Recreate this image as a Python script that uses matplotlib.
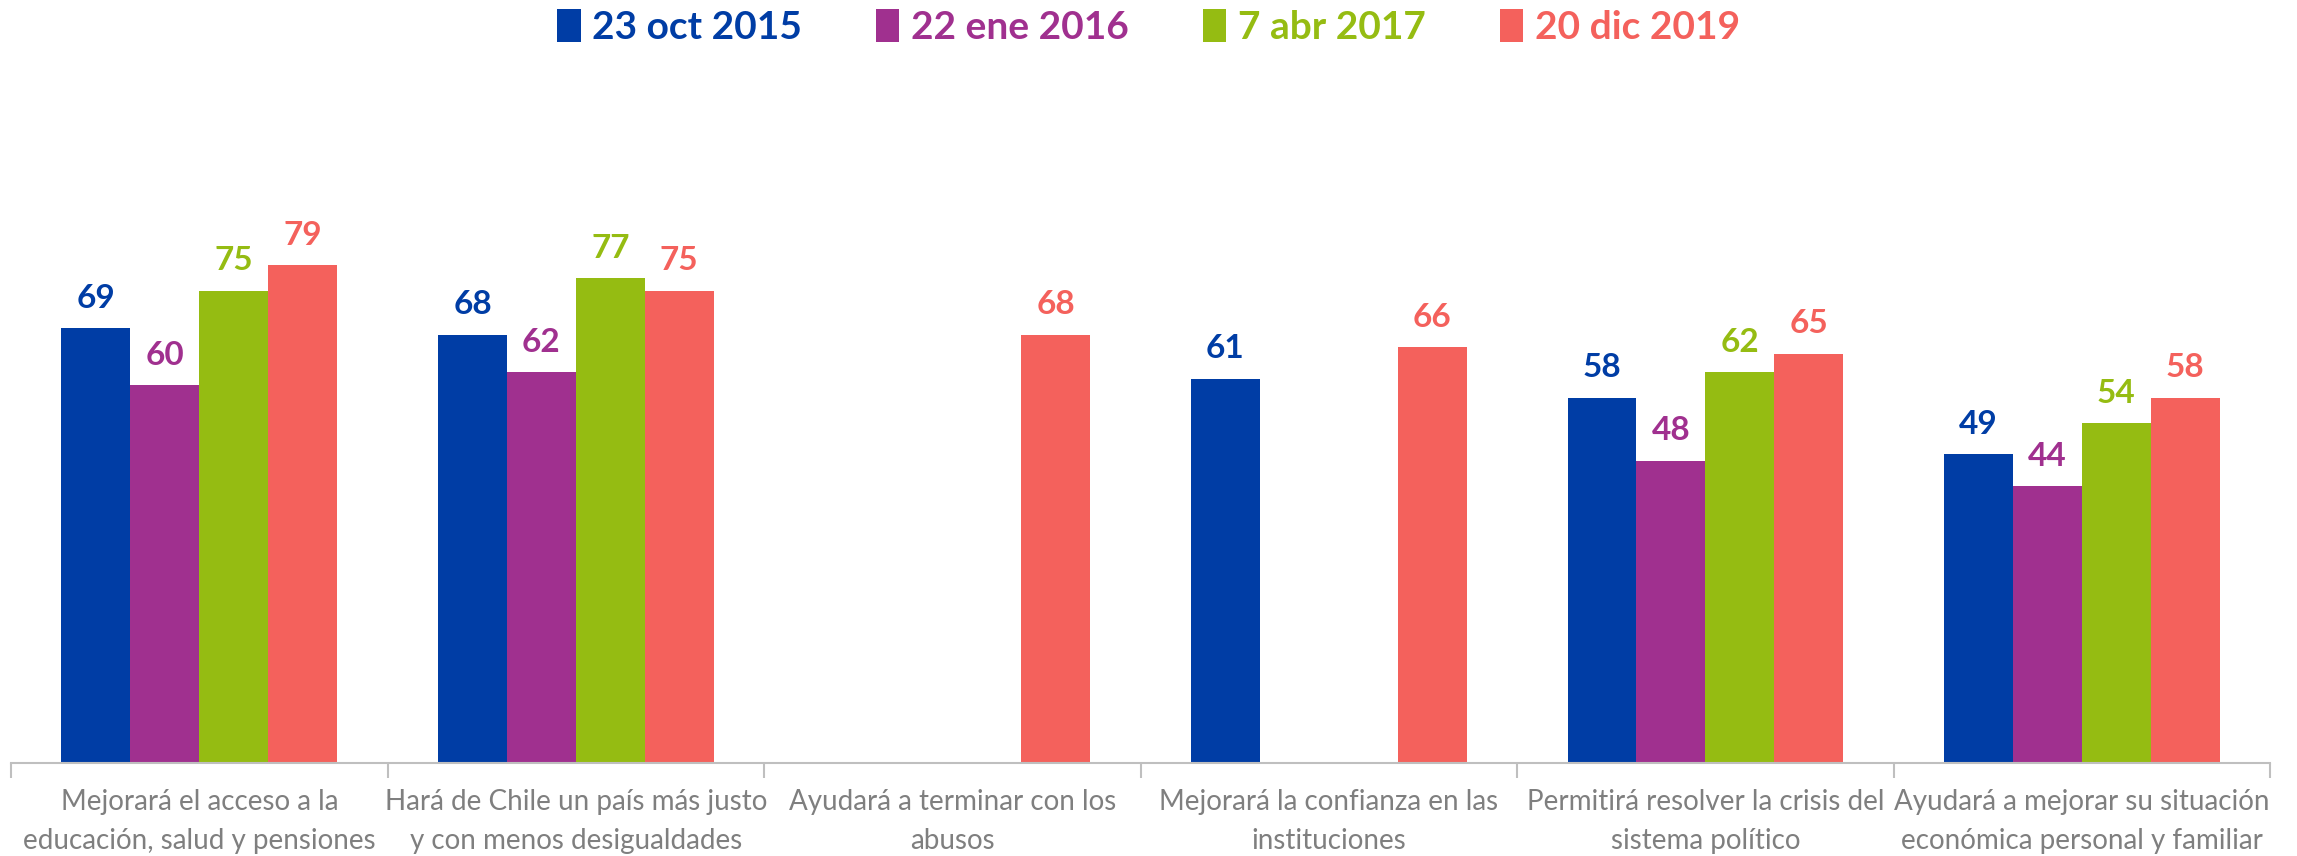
import numpy as np
import matplotlib
matplotlib.use('Agg')
import matplotlib.pyplot as plt

plt.rcParams['font.family'] = ['Lato', 'DejaVu Sans']

# Data
categories = ['Mejorará el acceso a la\neducación, salud y pensiones',
              'Hará de Chile un país más justo\ny con menos desigualdades',
              'Ayudará a terminar con los\nabusos',
              'Mejorará la confianza en las\ninstituciones',
              'Permitirá resolver la crisis del\nsistema político',
              'Ayudará a mejorar su situación\neconómica personal y familiar']
series_names = ['23 oct 2015', '22 ene 2016', '7 abr 2017', '20 dic 2019']
oct_2015 = [69, 68, np.nan, 61, 58, 49]
ene_2016 = [60, 62, np.nan, np.nan, 48, 44]
abr_2017 = [75, 77, np.nan, np.nan, 62, 54]
dic_2019 = [79, 75, 68, 66, 65, 58]
colors = ['#003DA5', '#A0308F', '#95BC12', '#F4615C']

all_series = [oct_2015, ene_2016, abr_2017, dic_2019]

fig = plt.figure(figsize=(22.97, 8.56), dpi=100)
ax = fig.add_axes([0.0048, 0.1086, 0.9835, 0.736])

x = np.arange(len(categories))
width = 0.183
handles = []
for i, (vals, col, name) in enumerate(zip(all_series, colors, series_names)):
    vals = np.array(vals, dtype=float)
    offs = (i - 1.5) * width
    mask = ~np.isnan(vals)
    bars = ax.bar(x[mask] + offs, vals[mask], width, color=col, label=name)
    handles.append(bars)
    for rect, v in zip(bars, vals[mask]):
        ax.annotate(f'{int(v)}', xy=(rect.get_x() + rect.get_width() / 2, v),
                    xytext=(0, 11), textcoords='offset points',
                    ha='center', va='bottom', fontsize=24, fontweight='bold', color=col)

ax.set_xlim(-0.5, len(categories) - 0.5)
ax.set_ylim(0, 100)
for s in ['top', 'right', 'left']:
    ax.spines[s].set_visible(False)
ax.spines['bottom'].set_color('#BFBFBF')
ax.spines['bottom'].set_linewidth(1.5)
ax.set_yticks([])

ax.set_xticks(x)
ax.set_xticklabels(categories, fontsize=20, color='#7F7F7F', linespacing=1.6)
ax.tick_params(axis='x', which='major', length=0, pad=19)
ax.set_xticks(np.arange(-0.5, len(categories)), minor=True)
ax.tick_params(axis='x', which='minor', length=11, width=1.5, color='#BFBFBF')

leg = fig.legend(handles=handles, labels=series_names, loc='upper center',
                 bbox_to_anchor=(0.5, 1.03), ncol=4, frameon=False,
                 handlelength=0.6, handleheight=0.9, handletextpad=0.3,
                 columnspacing=1.9, labelcolor=colors,
                 prop={'size': 28, 'weight': 'bold'})

plt.savefig('out.png', dpi=100, facecolor='white')
